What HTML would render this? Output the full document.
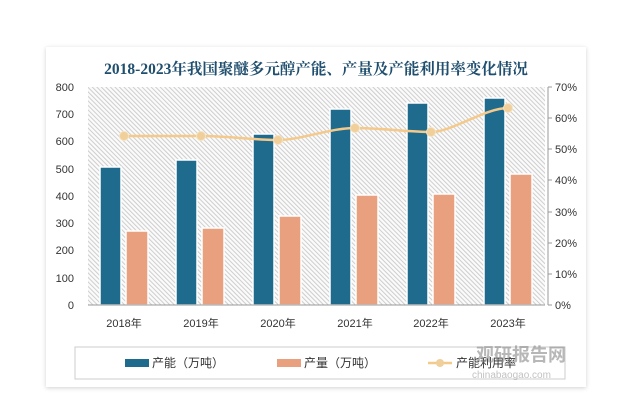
<!DOCTYPE html>
<html><head><meta charset="utf-8"><style>
body{margin:0;background:#fff;width:626px;height:412px;overflow:hidden;font-family:"Liberation Sans","Noto Sans CJK SC",sans-serif}
</style></head><body>
<svg width="626" height="412" xmlns="http://www.w3.org/2000/svg" style="position:absolute;left:0;top:0">
<defs>
<pattern id="h" width="3.2" height="4" patternUnits="userSpaceOnUse" patternTransform="rotate(-45)">
<rect width="3.2" height="4" fill="#fbfbfb"/><line x1="0.5" y1="0" x2="0.5" y2="4" stroke="#cdcdcd" stroke-width="1"/></pattern>
<filter id="s" x="-5%" y="-5%" width="110%" height="110%"><feDropShadow dx="0" dy="1" stdDeviation="2" flood-color="#000" flood-opacity="0.18"/></filter>
</defs>
<rect x="46" y="47" width="540" height="340" fill="#fff" filter="url(#s)"/>
<text x="316" y="74" text-anchor="middle" font-family="Liberation Serif,Noto Serif CJK SC,serif" font-size="15.5" font-weight="bold" fill="#1f4e6e">2018-2023年我国聚醚多元醇产能、产量及产能利用率变化情况</text>
<rect x="88" y="87" width="457" height="218" fill="url(#h)"/>
<g font-size="11" fill="#333" text-anchor="end">
<text x="74" y="91">800</text><text x="74" y="118">700</text><text x="74" y="145">600</text><text x="74" y="173">500</text><text x="74" y="200">400</text><text x="74" y="227">300</text><text x="74" y="254">200</text><text x="74" y="282">100</text><text x="74" y="309">0</text>
</g>
<g font-size="11" fill="#333">
<text x="555" y="91">70%</text><text x="555" y="122">60%</text><text x="555" y="153">50%</text><text x="555" y="184">40%</text><text x="555" y="216">30%</text><text x="555" y="247">20%</text><text x="555" y="278">10%</text><text x="555" y="309">0%</text>
</g>
<line x1="548" y1="87" x2="548" y2="305" stroke="#999"/>
<g stroke="#999"><line x1="548" y1="87" x2="552" y2="87"/><line x1="548" y1="118" x2="552" y2="118"/><line x1="548" y1="149" x2="552" y2="149"/><line x1="548" y1="180" x2="552" y2="180"/><line x1="548" y1="212" x2="552" y2="212"/><line x1="548" y1="243" x2="552" y2="243"/><line x1="548" y1="274" x2="552" y2="274"/><line x1="548" y1="305" x2="552" y2="305"/></g>
<g stroke="#fff" stroke-width="1.5">
<rect x="100" y="167" width="21" height="138" fill="#1f6b8e"/><rect x="126" y="231" width="22" height="74" fill="#e8a07f"/>
<rect x="176" y="160" width="21" height="145" fill="#1f6b8e"/><rect x="202" y="228" width="22" height="77" fill="#e8a07f"/>
<rect x="253" y="134" width="21" height="171" fill="#1f6b8e"/><rect x="279" y="216" width="22" height="89" fill="#e8a07f"/>
<rect x="330" y="109" width="21" height="196" fill="#1f6b8e"/><rect x="356" y="195" width="22" height="110" fill="#e8a07f"/>
<rect x="407" y="103" width="21" height="202" fill="#1f6b8e"/><rect x="433" y="194" width="22" height="111" fill="#e8a07f"/>
<rect x="484" y="98" width="21" height="207" fill="#1f6b8e"/><rect x="510" y="174" width="22" height="131" fill="#e8a07f"/>
</g>
<line x1="88" y1="305" x2="545" y2="305" stroke="#999"/>
<path d="M124,136 C150,136 175,136 201,136 S255,140 278,140 S330,128 355,128 S410,132 431,132 S485,108 508,108" fill="none" stroke="#f5c98a" stroke-width="2.5"/>
<g fill="#f0cf9a" stroke="#f5e3c0"><circle cx="124" cy="136" r="4.5"/><circle cx="201" cy="136" r="4.5"/><circle cx="278" cy="140" r="4.5"/><circle cx="355" cy="128" r="4.5"/><circle cx="431" cy="132" r="4.5"/><circle cx="508" cy="108" r="4.5"/></g>
<g font-size="11" fill="#333" text-anchor="middle">
<text x="124" y="327">2018年</text><text x="201" y="327">2019年</text><text x="278" y="327">2020年</text><text x="355" y="327">2021年</text><text x="431" y="327">2022年</text><text x="508" y="327">2023年</text>
</g>
<rect x="75" y="347" width="490" height="32" fill="#fff" stroke="#ccc"/>
<rect x="125" y="359" width="24" height="8" fill="#1f6b8e"/><text x="152" y="367" font-size="12" fill="#333">产能（万吨）</text>
<rect x="277" y="359" width="24" height="8" fill="#e8a07f"/><text x="304" y="367" font-size="12" fill="#333">产量（万吨）</text>
<line x1="428" y1="363" x2="452" y2="363" stroke="#f5c98a" stroke-width="2.5"/><circle cx="440" cy="363" r="4" fill="#f0cf9a"/>
<text x="456" y="367" font-size="12" fill="#333">产能利用率</text>
<text x="476" y="361" font-size="18" font-weight="bold" fill="#888" opacity="0.6">观研报告网</text>
<text x="472" y="378" font-size="10" fill="#999" opacity="0.6">chinabaogao.com</text>
</svg>
</body></html>
